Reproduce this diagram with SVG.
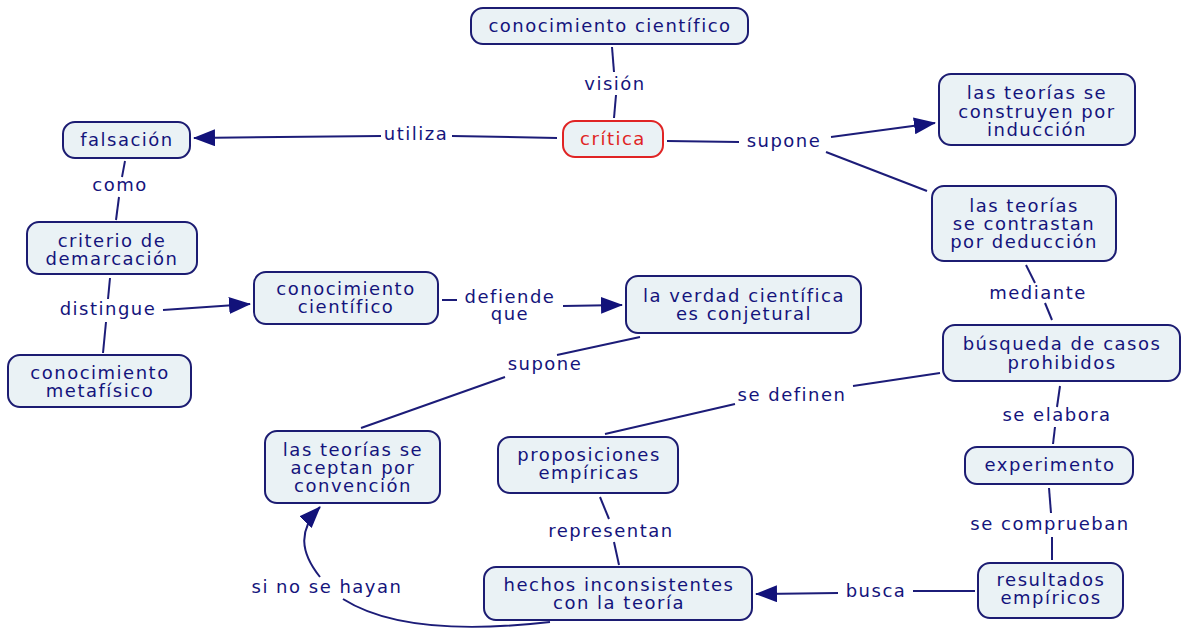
<svg xmlns="http://www.w3.org/2000/svg" width="1182" height="632" viewBox="0 0 1182 632">
  <defs>
    <style>
      .node rect { fill: #eaf2f5; stroke: #1c1c72; stroke-width: 2; }
      .node.hot rect { stroke: #e02424; }
      text { font-family: "DejaVu Sans", Verdana, sans-serif; font-size: 18px; letter-spacing: 1.5px; fill: #14147c; text-anchor: middle; }
      .node.hot text { fill: #e02424; }
      .links line, .links path { stroke: #1c1c78; stroke-width: 2; fill: none; }
      .arr { marker-end: url(#head); }
    </style>
    <marker id="head" viewBox="0 0 22 17" refX="21" refY="8.5" markerWidth="22" markerHeight="17" markerUnits="userSpaceOnUse" orient="auto">
      <path d="M0,0 L22,8.5 L0,17 z" fill="#12127a"/>
    </marker>
  </defs>

  <rect width="1182" height="632" fill="#ffffff"/>

  <!-- connectors and their labels -->
  <g id="connectors" class="links">
    <!-- conocimiento científico / visión / crítica -->
    <line x1="612" y1="47" x2="614" y2="72"/>
    <line x1="616" y1="95" x2="614" y2="118"/>
    <text x="615" y="90">visión</text>

    <!-- crítica / utiliza / falsación -->
    <line x1="557" y1="138" x2="452" y2="136"/>
    <line class="arr" x1="381" y1="136" x2="194" y2="138"/>
    <text x="416" y="140">utiliza</text>

    <!-- crítica / supone / inducción, deducción -->
    <line x1="667" y1="141" x2="739" y2="142"/>
    <line class="arr" x1="831" y1="137" x2="935" y2="123"/>
    <line x1="826" y1="152" x2="927" y2="191"/>
    <text x="784" y="147">supone</text>

    <!-- falsación / como / criterio -->
    <line x1="125" y1="161" x2="122" y2="177"/>
    <line x1="119" y1="197" x2="116" y2="220"/>
    <text x="120" y="191">como</text>

    <!-- criterio / distingue / metafísico, científico -->
    <line x1="110" y1="278" x2="108" y2="299"/>
    <line x1="106" y1="322" x2="103" y2="353"/>
    <line class="arr" x1="163" y1="310" x2="250" y2="304"/>
    <text x="108" y="315">distingue</text>

    <!-- conocimiento científico / defiende que / verdad -->
    <line x1="442" y1="300" x2="457" y2="300"/>
    <line class="arr" x1="563" y1="306" x2="622" y2="305"/>
    <text x="510" y="303">defiende</text>
    <text x="510" y="320">que</text>

    <!-- verdad / supone / convención -->
    <line x1="640" y1="337" x2="557" y2="355"/>
    <line x1="505" y1="377" x2="361" y2="428"/>
    <text x="545" y="370">supone</text>

    <!-- deducción / mediante / búsqueda -->
    <line x1="1026" y1="265" x2="1035" y2="283"/>
    <line x1="1045" y1="303" x2="1052" y2="320"/>
    <text x="1038" y="299">mediante</text>

    <!-- búsqueda / se definen / proposiciones -->
    <line x1="940" y1="373" x2="853" y2="386"/>
    <line x1="735" y1="404" x2="605" y2="434"/>
    <text x="792" y="401">se definen</text>

    <!-- búsqueda / se elabora / experimento -->
    <line x1="1060" y1="386" x2="1057" y2="407"/>
    <line x1="1055" y1="427" x2="1053" y2="444"/>
    <text x="1057" y="421">se elabora</text>

    <!-- experimento / se comprueban / resultados -->
    <line x1="1049" y1="488" x2="1051" y2="513"/>
    <line x1="1052" y1="537" x2="1052" y2="560"/>
    <text x="1050" y="530">se comprueban</text>

    <!-- resultados / busca / hechos -->
    <line x1="975" y1="591" x2="913" y2="591"/>
    <line class="arr" x1="838" y1="593" x2="756" y2="594"/>
    <text x="876" y="597">busca</text>

    <!-- proposiciones / representan / hechos -->
    <line x1="600" y1="497" x2="609" y2="519"/>
    <line x1="614" y1="542" x2="619" y2="565"/>
    <text x="611" y="537">representan</text>

    <!-- hechos / si no se hayan / convención -->
    <path d="M550,622 C480,630 395,632 343,599"/>
    <path class="arr" d="M320,577 C300,552 298,530 320,507"/>
    <text x="327" y="593">si no se hayan</text>
  </g>

  <!-- concept nodes -->
  <g id="n-conocimiento-top" class="node">
    <rect x="471" y="8" width="277" height="36" rx="12"/>
    <text x="610" y="32">conocimiento científico</text>
  </g>
  <g id="n-critica" class="node hot">
    <rect x="563" y="121" width="100" height="36" rx="12"/>
    <text x="613" y="145">crítica</text>
  </g>
  <g id="n-falsacion" class="node">
    <rect x="63" y="122" width="127" height="36" rx="12"/>
    <text x="127" y="146">falsación</text>
  </g>
  <g id="n-induccion" class="node">
    <rect x="939" y="74" width="196" height="71" rx="12"/>
    <text x="1037" y="99">las teorías se</text>
    <text x="1037" y="118">construyen por</text>
    <text x="1037" y="136">inducción</text>
  </g>
  <g id="n-deduccion" class="node">
    <rect x="932" y="186" width="184" height="75" rx="12"/>
    <text x="1024" y="212">las teorías</text>
    <text x="1024" y="230">se contrastan</text>
    <text x="1024" y="248">por deducción</text>
  </g>
  <g id="n-criterio" class="node">
    <rect x="27" y="222" width="170" height="52" rx="12"/>
    <text x="112" y="247">criterio de</text>
    <text x="112" y="265">demarcación</text>
  </g>
  <g id="n-conocimiento-mid" class="node">
    <rect x="254" y="272" width="184" height="52" rx="12"/>
    <text x="346" y="295">conocimiento</text>
    <text x="346" y="313">científico</text>
  </g>
  <g id="n-verdad" class="node">
    <rect x="626" y="276" width="235" height="57" rx="12"/>
    <text x="744" y="302">la verdad científica</text>
    <text x="744" y="320">es conjetural</text>
  </g>
  <g id="n-metafisico" class="node">
    <rect x="8" y="355" width="183" height="52" rx="12"/>
    <text x="100" y="379">conocimiento</text>
    <text x="100" y="397">metafísico</text>
  </g>
  <g id="n-busqueda" class="node">
    <rect x="943" y="325" width="237" height="56" rx="12"/>
    <text x="1062" y="350">búsqueda de casos</text>
    <text x="1062" y="369">prohibidos</text>
  </g>
  <g id="n-convencion" class="node">
    <rect x="265" y="431" width="175" height="72" rx="12"/>
    <text x="353" y="456">las teorías se</text>
    <text x="353" y="474">aceptan por</text>
    <text x="353" y="492">convención</text>
  </g>
  <g id="n-proposiciones" class="node">
    <rect x="498" y="437" width="180" height="56" rx="12"/>
    <text x="589" y="461">proposiciones</text>
    <text x="589" y="479">empíricas</text>
  </g>
  <g id="n-experimento" class="node">
    <rect x="965" y="447" width="168" height="37" rx="12"/>
    <text x="1050" y="471">experimento</text>
  </g>
  <g id="n-hechos" class="node">
    <rect x="484" y="567" width="268" height="53" rx="12"/>
    <text x="619" y="591">hechos inconsistentes</text>
    <text x="619" y="609">con la teoría</text>
  </g>
  <g id="n-resultados" class="node">
    <rect x="978" y="563" width="145" height="55" rx="12"/>
    <text x="1051" y="586">resultados</text>
    <text x="1051" y="604">empíricos</text>
  </g>
</svg>
